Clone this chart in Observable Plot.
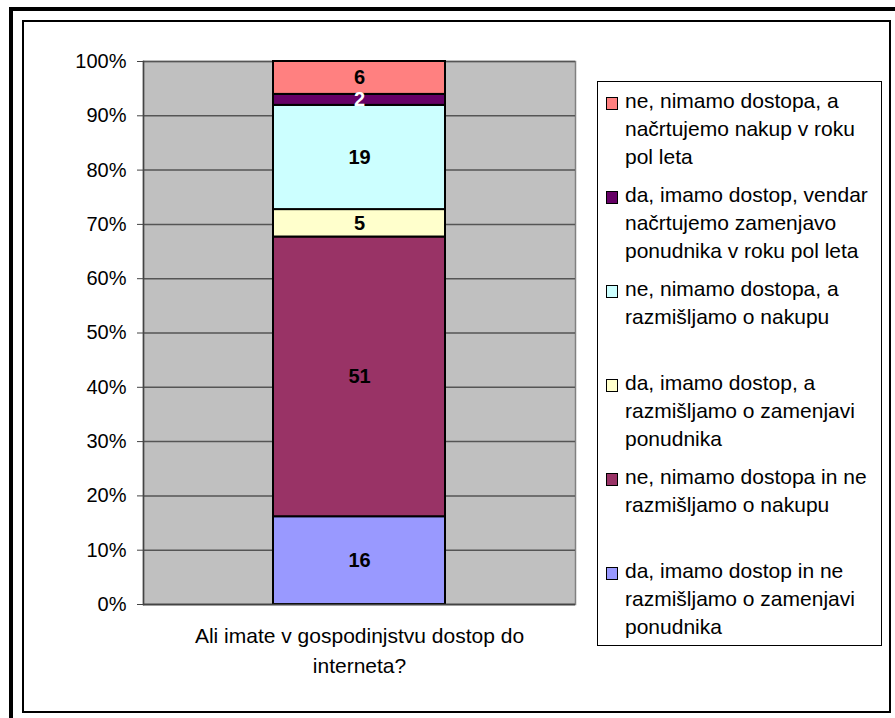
<!DOCTYPE html>
<html>
<head>
<meta charset="utf-8">
<script src="https://cdn.jsdelivr.net/npm/d3@7"></script>
<script src="https://cdn.jsdelivr.net/npm/@observablehq/plot@0.6"></script>
<style>
  html, body { margin: 0; padding: 0; background: #fff; }
  #wrap { position: relative; width: 895px; height: 718px; overflow: hidden; font-family: "Liberation Sans", Arial, sans-serif; }
  #chart { position: absolute; left: 0; top: 0; }
  .outer { position: absolute; left: 9px; top: 7px; width: 900px; height: 720px; border-top: 4px solid #000; border-left: 4px solid #000; box-sizing: border-box; }
  .inner { position: absolute; left: 22px; top: 20px; width: 869px; height: 693px; border: 2px solid #000; box-sizing: border-box; }
  #legend { position: absolute; left: 597px; top: 81px; width: 285px; height: 565px; border: 1px solid #000; box-sizing: border-box; background: #fff; }
  .item { position: absolute; left: 0; }
  .sw { position: absolute; left: 8px; width: 12px; height: 13px; border: 1.5px solid #000; box-sizing: border-box; }
  .txt { position: absolute; left: 27px; font-size: 21px; line-height: 28px; white-space: nowrap; color: #000; }
</style>
</head>
<body>
<div id="wrap">
  <div class="outer"></div>
  <div class="inner"></div>
  <div id="chart"></div>
  <div id="legend"></div>
</div>
<script>
// ---- data ----
const categories = ["Ali imate v gospodinjstvu dostop do\ninterneta?"];
const answers = [
  "da, imamo dostop in ne\nrazmišljamo o zamenjavi\nponudnika",
  "ne, nimamo dostopa in ne\nrazmišljamo o nakupu",
  "da, imamo dostop, a\nrazmišljamo o zamenjavi\nponudnika",
  "ne, nimamo dostopa, a\nrazmišljamo o nakupu",
  "da, imamo dostop, vendar\nnačrtujemo zamenjavo\nponudnika v roku pol leta",
  "ne, nimamo dostopa, a\nnačrtujemo nakup v roku\npol leta"
];
const counts = [16, 51, 5, 19, 2, 6];
const colors = ["#9999FF", "#993366", "#FFFFCC", "#CCFFFF", "#660066", "#FF8080"];
const labelColors = ["#000", "#000", "#000", "#000", "#fff", "#000"];
const yTicks = [0, 0.1, 0.2, 0.3, 0.4, 0.5, 0.6, 0.7, 0.8, 0.9, 1];

const data = answers.map((a, i) => ({cat: categories[0], answer: a, count: counts[i], lc: labelColors[i]}));

const chart = Plot.plot({
  width: 895,
  height: 718,
  marginLeft: 143,
  marginRight: 320,
  marginTop: 61,
  marginBottom: 114,
  style: {fontFamily: "'Liberation Sans', Arial, sans-serif", background: "transparent", color: "#000"},
  x: {domain: categories, padding: 0.43, label: null, axis: null},
  y: {domain: [0, 1], label: null, axis: null},
  color: {domain: answers, range: colors},
  marks: [
    Plot.frame({fill: "#C0C0C0", stroke: "#808080", strokeWidth: 1.5}),
    Plot.gridY(yTicks, {stroke: "#555", strokeOpacity: 1, strokeWidth: 1.5}),
    Plot.barY(data, Plot.stackY({x: "cat", y: "count", fill: "answer", offset: "normalize", stroke: "#000", strokeWidth: 2})),
    Plot.text(data, Plot.stackY({x: "cat", y: "count", text: "count", offset: "normalize", fill: "lc", fontWeight: "bold", fontSize: 20})),
    Plot.ruleY([0], {stroke: "#444", strokeWidth: 1.5}),
    Plot.frame({anchor: "left", stroke: "#444", strokeWidth: 1.5}),
    Plot.axisY(yTicks, {tickSize: 6, tickPadding: 11, fontSize: 20, tickFormat: d3.format(".0%"), stroke: "#444", label: null}),
    Plot.axisX({tickSize: 0, tickPadding: 17, fontSize: 21, lineHeight: 30 / 21, label: null})
  ]
});
document.getElementById("chart").appendChild(chart);

// ---- legend (top to bottom = reverse of stack) ----
const legend = document.getElementById("legend");
const order = [5, 4, 3, 2, 1, 0];
order.forEach((idx, k) => {
  const item = document.createElement("div");
  item.className = "item";
  item.style.top = (5 + k * 94) + "px";
  const sw = document.createElement("div");
  sw.className = "sw";
  sw.style.top = "10px";
  sw.style.background = colors[idx];
  const txt = document.createElement("div");
  txt.className = "txt";
  txt.style.top = "0px";
  txt.innerHTML = answers[idx].split("\n").map(s => `<div>${s}</div>`).join("");
  item.appendChild(sw);
  item.appendChild(txt);
  legend.appendChild(item);
});
</script>
</body>
</html>
